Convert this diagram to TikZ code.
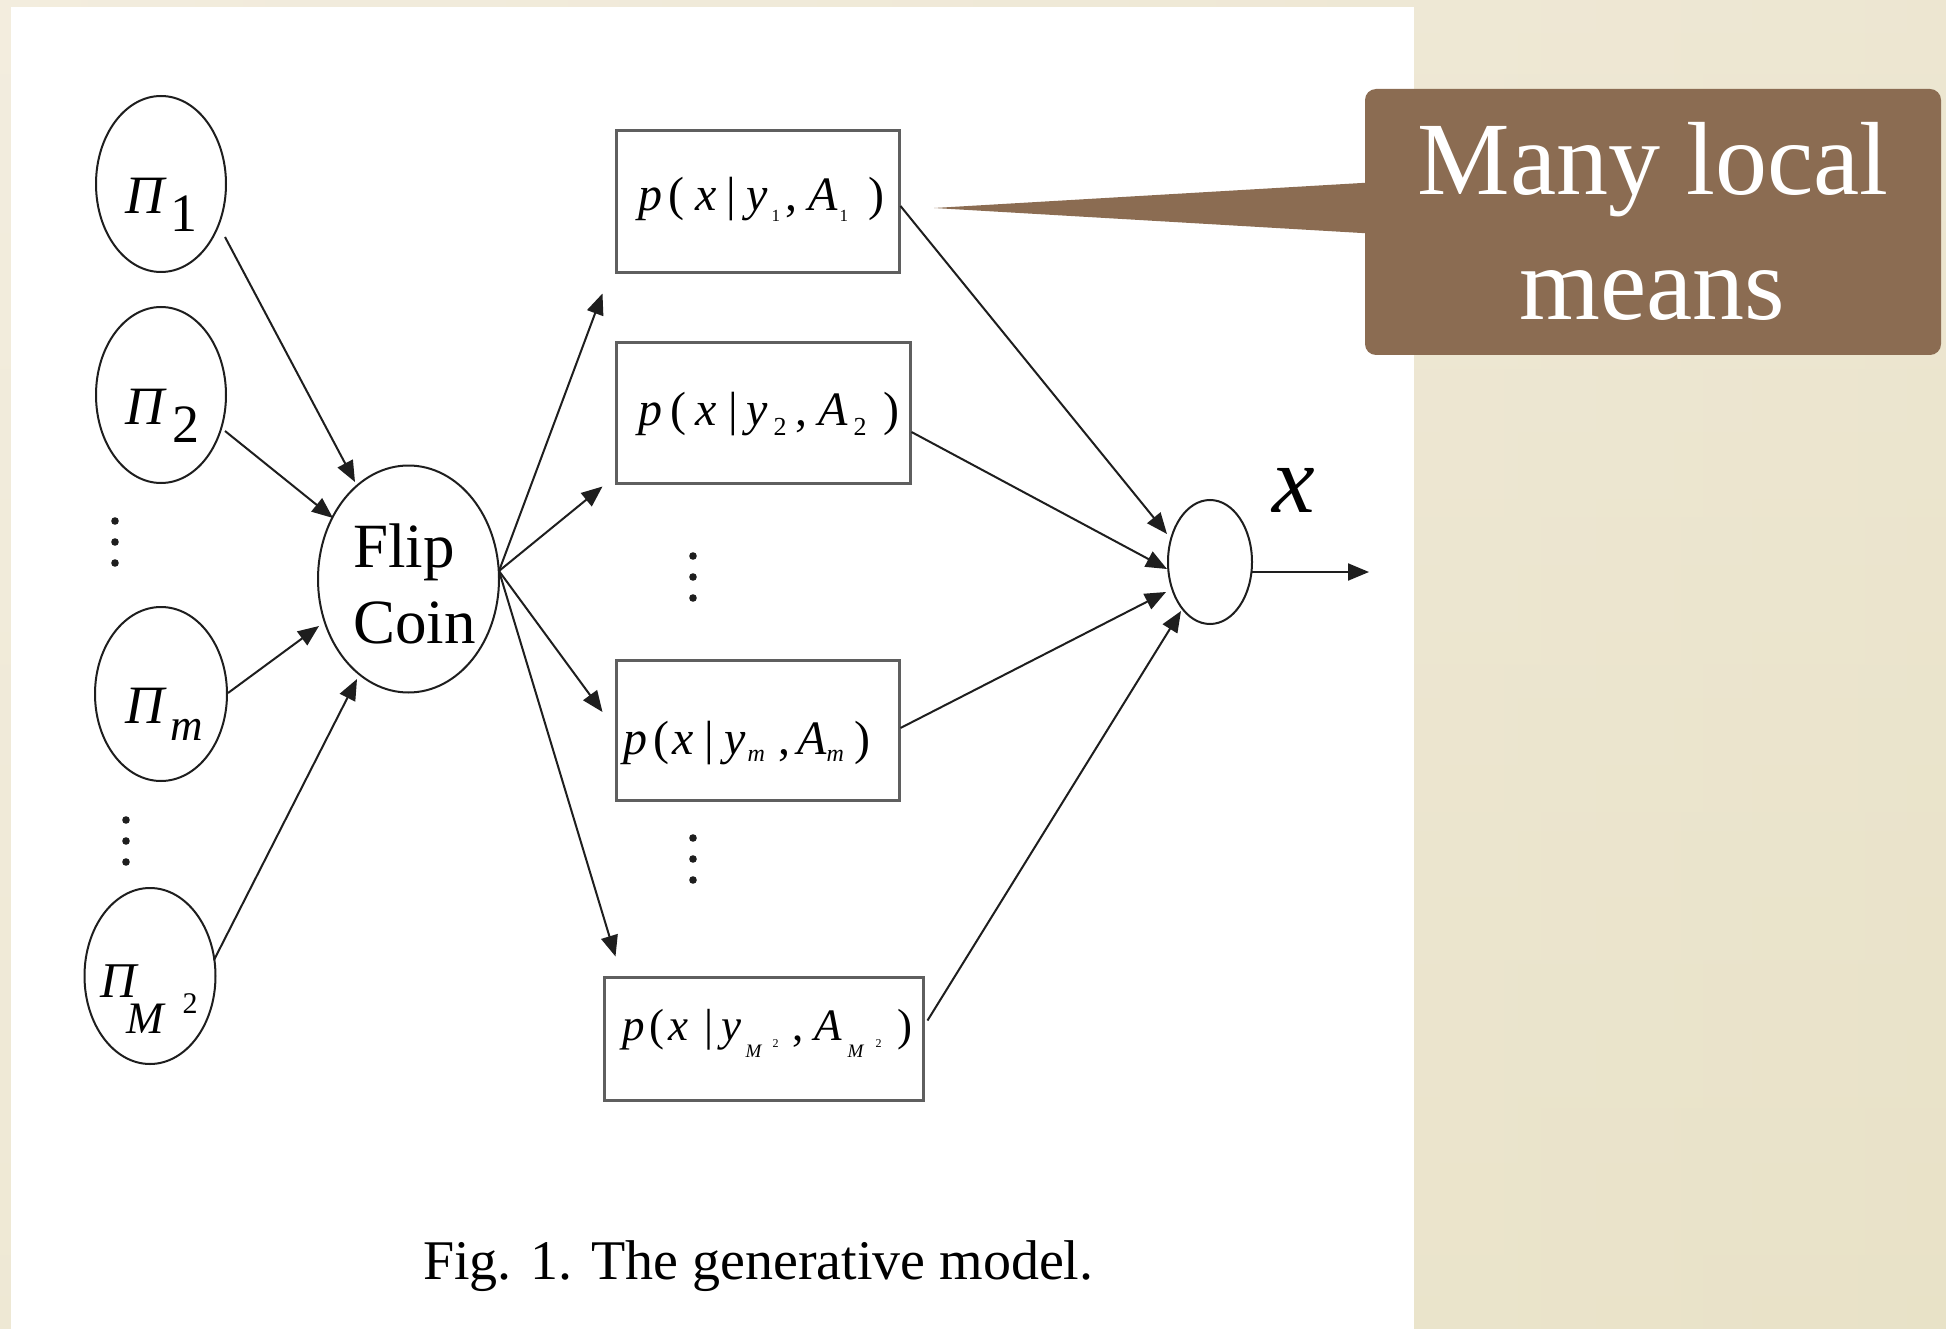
\documentclass[tikz,border=0pt]{standalone}
\usepackage{fontspec}
\setmainfont{Liberation Serif}
\usetikzlibrary{arrows.meta,shapes.geometric}

\definecolor{ink}{RGB}{30,30,30}
\definecolor{boxline}{RGB}{95,95,95}
\definecolor{calloutbrown}{RGB}{139,108,82}
\definecolor{creamTop}{RGB}{243,237,223}
\definecolor{creamBot}{RGB}{234,228,203}
\definecolor{creamLeft}{RGB}{243,237,222}
\definecolor{creamRight}{RGB}{232,225,197}

% font size in px (1px = 1pt here)
\newcommand\fsz[1]{\fontsize{#1}{#1}\selectfont}
% place material at a horizontal offset from the start of a label
\newcommand\putat[2]{\makebox[0pt][l]{\hspace{#1pt}#2}}
% lower material by a given amount
\newcommand\lowr[2]{\raisebox{-#1pt}{#2}}

\tikzset{
  ell/.style={draw=ink, line width=2pt, ellipse, inner sep=0pt},
  bx/.style={draw=boxline, line width=3pt, rectangle, inner sep=0pt},
  lbl/.style={anchor=base west, inner sep=0pt},
  arr/.style={draw=ink, line width=2pt, -{Triangle[length=21pt,width=17pt]}},
  dotmark/.style={fill=ink},
}

\begin{document}
\begin{tikzpicture}[x=1pt, y=-1pt]
\useasboundingbox (0,0) rectangle (1946,1329);

% page background and white figure panel
\shade[top color=creamTop, bottom color=creamBot] (0,0) rectangle (1946,1329);
\shade[left color=creamLeft, right color=creamRight, opacity=.5] (0,0) rectangle (1946,1329);
\fill[white] (11,7) rectangle (1414,1329);

% mixture priors
\node[ell, minimum width=130pt, minimum height=176pt] (P1) at (161,184) {};
\node[ell, minimum width=130pt, minimum height=176pt] (P2) at (161,395) {};
\node[ell, minimum width=132pt, minimum height=174pt] (Pm) at (161,694) {};
\node[ell, minimum width=131pt, minimum height=176pt] (PM) at (150,976) {};

\node[lbl, font=\fsz{54}] (P1t) at (125,214) {\putat{0}{\itshape Π}\putat{45}{\lowr{18}{1}}\hspace{70pt}};
\node[lbl, font=\fsz{54}] (P2t) at (125,424) {\putat{0}{\itshape Π}\putat{47}{\lowr{19}{2}}\hspace{70pt}};
\node[lbl, font=\fsz{54}] (Pmt) at (125,723) {\putat{0}{\itshape Π}\putat{45}{\lowr{17}{\fsz{45}\itshape m}}\hspace{76pt}};
\node[lbl, font=\fsz{50}] (PMt) at (100,997) {\putat{0}{\itshape Π}\putat{26}{\lowr{36}{\fsz{45}\itshape M}}\putat{82}{\lowr{16}{\fsz{30}2}}\hspace{97pt}};

% vertical ellipses between priors
\coordinate (vL1) at (115,542);
\coordinate (vL2) at (126,841);
\foreach \d in {-21,0,21} {
  \fill[dotmark] ([shift={(0,\d)}]vL1) circle (3.8);
  \fill[dotmark] ([shift={(0,\d)}]vL2) circle (3.8);
}

% coin flip
\node[ell, minimum width=181pt, minimum height=227pt] (Flip) at (408.5,579) {};
\node[lbl, font=\fsz{63}] (FlipA) at (353,567) {Flip};
\node[lbl, font=\fsz{63}] (FlipB) at (353,643) {Coin};

% component likelihoods
\node[bx, minimum width=283pt, minimum height=142pt] (B1) at (757.5,202) {};
\node[bx, minimum width=294pt, minimum height=140pt] (B2) at (763,413) {};
\node[bx, minimum width=283pt, minimum height=140pt] (Bm) at (757.5,730) {};
\node[bx, minimum width=319pt, minimum height=123pt] (BM) at (763.5,1038.5) {};

\node[lbl, font=\fsz{48}] (B1t) at (638,211) {%
  \putat{0}{\itshape p}\putat{30}{(}\putat{57}{\itshape x}\putat{88}{|}%
  \putat{108}{\itshape y}\putat{133}{\lowr{11}{\fsz{17}1}}\putat{147}{,}%
  \putat{170}{\itshape A}\putat{201}{\lowr{11}{\fsz{17}1}}\putat{230}{)}\hspace{248pt}};
\node[lbl, font=\fsz{48}] (B2t) at (638,425) {%
  \putat{0}{\itshape p}\putat{32}{(}\putat{57}{\itshape x}\putat{90}{|}%
  \putat{108}{\itshape y}\putat{135}{\lowr{10}{\fsz{26}2}}\putat{157}{,}%
  \putat{180}{\itshape A}\putat{215}{\lowr{10}{\fsz{26}2}}\putat{245}{)}\hspace{262pt}};
\node[lbl, font=\fsz{48}] (Bmt) at (623,754) {%
  \putat{0}{\itshape p}\putat{30}{(}\putat{49}{\itshape x}\putat{81}{|}%
  \putat{101}{\itshape y}\putat{124}{\lowr{7}{\fsz{24}\itshape m}}\putat{155}{,}%
  \putat{174}{\itshape A}\putat{203}{\lowr{7}{\fsz{24}\itshape m}}\putat{231}{)}\hspace{248pt}};
\node[lbl, font=\fsz{45}] (BMt) at (622,1040) {%
  \putat{0}{\itshape p}\putat{27}{(}\putat{46}{\itshape x}\putat{82}{|}%
  \putat{99}{\itshape y}\putat{123}{\lowr{17}{\fsz{19}\itshape M}}\putat{150}{\lowr{7}{\fsz{12}2}}\putat{170}{,}%
  \putat{192}{\itshape A}\putat{225}{\lowr{17}{\fsz{19}\itshape M}}\putat{253}{\lowr{7}{\fsz{12}2}}\putat{275}{)}\hspace{292pt}};

\coordinate (vM1) at (693,577);
\coordinate (vM2) at (693,859);
\foreach \d in {-21,0,21} {
  \fill[dotmark] ([shift={(0,\d)}]vM1) circle (3.8);
  \fill[dotmark] ([shift={(0,\d)}]vM2) circle (3.8);
}

% observation node and output
\node[ell, minimum width=84pt, minimum height=124pt] (S) at (1210,562) {};
\node[lbl, font=\fsz{96}] (xlab) at (1272,512) {\itshape x};
\coordinate (out) at (1369,572);

% priors into the coin flip
\draw[arr] ([shift={(64,53)}]P1.center) -- ([shift={(-53.5,-97)}]Flip.center);
\draw[arr] ([shift={(64,36)}]P2.center) -- ([shift={(-75.5,-61)}]Flip.center);
\draw[arr] ([shift={(67,-1)}]Pm.center) -- ([shift={(-89.5,47)}]Flip.center);
\draw[arr] ([shift={(64,-16)}]PM.center) -- ([shift={(-51.5,100)}]Flip.center);

% coin flip selects a component
\coordinate (fo) at ([shift={(90.5,-8)}]Flip.center);
\draw[arr] (fo) -- ([shift={(-12,19)}]B1.south west);
\draw[arr] (fo) -- ([shift={(-12,2)}]B2.south west);
\draw[arr] (fo) -- ([shift={(-12,-18)}]Bm.west);
\draw[arr] (fo) -- ([shift={(13,-19)}]BM.north west);

% components into the observation
\draw[arr] ([shift={(0,4)}]B1.east) -- ([shift={(-43,-28)}]S.center);
\draw[arr] ([shift={(0,19)}]B2.east) -- ([shift={(-43,7)}]S.center);
\draw[arr] ([shift={(0,-2)}]Bm.east) -- ([shift={(-44,30)}]S.center);
\draw[arr] ([shift={(3,-18)}]BM.east) -- ([shift={(-29,49)}]S.center);
\draw[arr] ([shift={(42,10)}]S.center) -- (out);

% caption
\node[lbl, font=\fsz{56}] (cap) at (423,1279) {Fig. 1. The generative model.};

% callout
\node[fill=calloutbrown, rounded corners=11pt, minimum width=576pt, minimum height=266pt, inner sep=0pt] (note) at (1653,222) {};
\coordinate (tip) at (934,208);
\fill[calloutbrown] ([shift={(14,-40)}]note.west) -- (tip) -- ([shift={(14,12)}]note.west) -- cycle;
\node[anchor=base, inner sep=0pt, font=\fsz{104}, text=white] (noteA) at (1653,195) {Many local};
\node[anchor=base, inner sep=0pt, font=\fsz{104}, text=white] (noteB) at (1652,320) {means};
\end{tikzpicture}
\end{document}
